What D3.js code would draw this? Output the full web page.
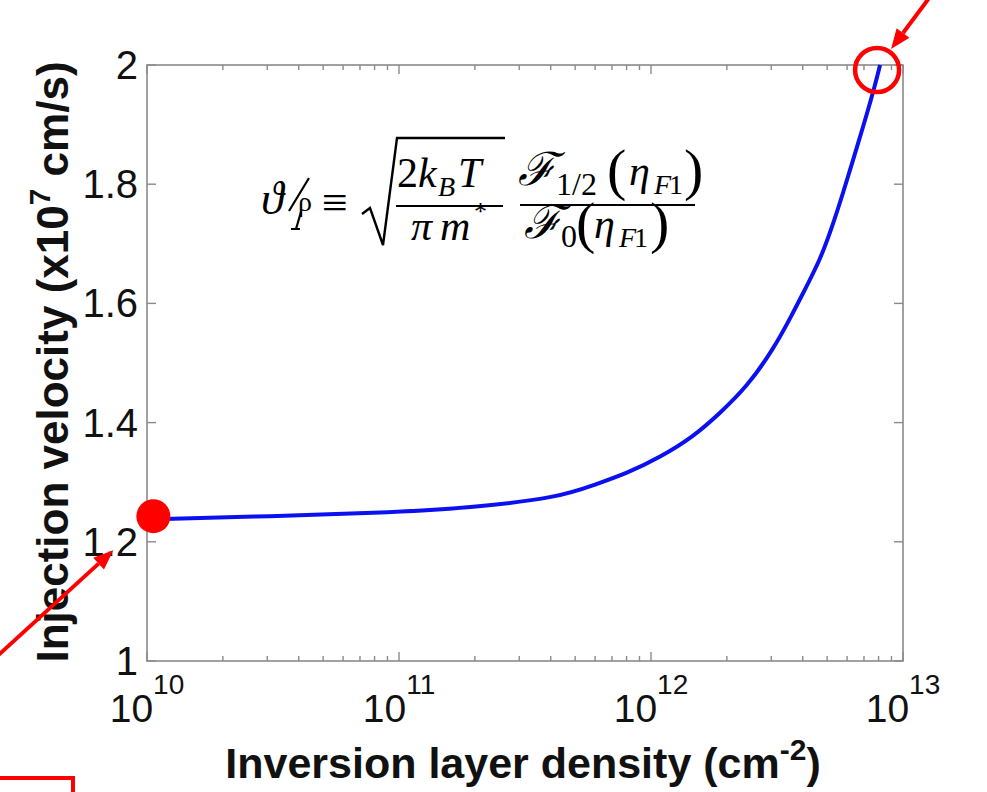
<!DOCTYPE html>
<html>
<head>
<meta charset="utf-8">
<script src="https://cdn.jsdelivr.net/npm/d3@7"></script>
<style>
  body { margin: 0; background: white; }
  svg { display: block; }
</style>
</head>
<body>
<svg width="987" height="792"></svg>
<script>
// inversion layer density (cm^-2) and injection velocity (x1e7 cm/s)
var density = [1.06e10, 3.16e10, 7.9e10, 1.96e11, 4.35e11, 5.89e11, 8.03e11, 1.087e12,
               1.469e12, 1.879e12, 2.40e12, 3.05e12, 3.66e12, 4.01e12, 4.69e12, 5.23e12,
               5.78e12, 6.34e12, 6.94e12, 7.60e12, 8.11e12];
var velocity = [1.238, 1.243, 1.248, 1.257, 1.275, 1.295, 1.315, 1.342,
                1.376, 1.416, 1.460, 1.522, 1.584, 1.617, 1.673, 1.728,
                1.785, 1.841, 1.896, 1.953, 2.0];
var yTicks = [1, 1.2, 1.4, 1.6, 1.8, 2];
var yTickLabels = ["1", "1.2", "1.4", "1.6", "1.8", "2"];
var xDecades = [10, 11, 12, 13];

var pL = 147, pR = 903, pT = 65, pB = 661;
var axisColor = "#8a8a8a";
var textColor = "#111";

var svg = d3.select("svg");

var x = d3.scaleLog().domain([1e10, 1e13]).range([pL, pR]);
var y = d3.scaleLinear().domain([1, 2]).range([pB, pT]);

// box
svg.append("rect")
    .attr("x", pL).attr("y", pT)
    .attr("width", pR - pL).attr("height", pB - pT)
    .attr("fill", "none")
    .attr("stroke", axisColor)
    .attr("stroke-width", 1.6);

// x ticks (major + minor), bottom and top, pointing inward
var minor = [];
for (var e = 10; e < 13; e++)
    for (var m = 2; m <= 9; m++) minor.push(m * Math.pow(10, e));
var major = xDecades.map(function(d) { return Math.pow(10, d); });

function xTickMarks(vals, len) {
    svg.selectAll(null).data(vals).enter().append("line")
        .attr("x1", function(d) { return x(d); }).attr("x2", function(d) { return x(d); })
        .attr("y1", pB).attr("y2", pB - len)
        .attr("stroke", axisColor).attr("stroke-width", 1.4);
    svg.selectAll(null).data(vals).enter().append("line")
        .attr("x1", function(d) { return x(d); }).attr("x2", function(d) { return x(d); })
        .attr("y1", pT).attr("y2", pT + len)
        .attr("stroke", axisColor).attr("stroke-width", 1.4);
}
xTickMarks(major, 9);
xTickMarks(minor, 5);

// y ticks, left and right
svg.selectAll(null).data(yTicks).enter().append("line")
    .attr("x1", pL).attr("x2", pL + 9)
    .attr("y1", function(d) { return y(d); }).attr("y2", function(d) { return y(d); })
    .attr("stroke", axisColor).attr("stroke-width", 1.4);
svg.selectAll(null).data(yTicks).enter().append("line")
    .attr("x1", pR).attr("x2", pR - 9)
    .attr("y1", function(d) { return y(d); }).attr("y2", function(d) { return y(d); })
    .attr("stroke", axisColor).attr("stroke-width", 1.4);

// y tick labels
svg.selectAll(null).data(yTicks).enter().append("text")
    .attr("x", pL - 9)
    .attr("y", function(d) { return y(d) + 14; })
    .attr("text-anchor", "end")
    .attr("font-family", "Liberation Sans, Arial, sans-serif")
    .attr("font-size", 40)
    .attr("fill", textColor)
    .text(function(d, i) { return yTickLabels[i]; });

// x tick labels 10^n
var xl = svg.selectAll(null).data(xDecades).enter().append("text")
    .attr("x", function(d) { return x(Math.pow(10, d)); })
    .attr("y", 722)
    .attr("text-anchor", "middle")
    .attr("font-family", "Liberation Sans, Arial, sans-serif")
    .attr("fill", textColor);
xl.append("tspan").attr("font-size", 39).text("10");
xl.append("tspan").attr("font-size", 28).attr("dy", -28).text(function(d) { return d; });

// axis titles
var xt = svg.append("text")
    .attr("x", 523).attr("y", 778)
    .attr("text-anchor", "middle")
    .attr("font-family", "Liberation Sans, Arial, sans-serif")
    .attr("font-weight", "bold")
    .attr("font-size", 43)
    .attr("fill", textColor);
xt.append("tspan").text("Inversion layer density (cm");
xt.append("tspan").attr("font-size", 30).attr("dy", -18).text("-2");
xt.append("tspan").attr("dy", 18).text(")");

var yt = svg.append("text")
    .attr("transform", "translate(68,362) rotate(-90)")
    .attr("text-anchor", "middle")
    .attr("font-family", "Liberation Sans, Arial, sans-serif")
    .attr("font-weight", "bold")
    .attr("font-size", 44)
    .attr("fill", textColor);
yt.append("tspan").text("Injection velocity (x10");
yt.append("tspan").attr("font-size", 30).attr("dy", -18).text("7");
yt.append("tspan").attr("dy", 18).text(" cm/s)");

// the curve
var pts = density.map(function(d, i) { return [d, velocity[i]]; });
var line = d3.line()
    .x(function(d) { return x(d[0]); })
    .y(function(d) { return y(d[1]); })
    .curve(d3.curveBasis);
svg.append("path")
    .datum(pts)
    .attr("d", line)
    .attr("fill", "none")
    .attr("stroke", "#0a10f0")
    .attr("stroke-width", 4);

// red markers
var first = pts[0], last = pts[pts.length - 1];
var dx0 = x(first[0]), dy0 = y(first[1]) - 3;
var dx1 = x(last[0]) - 3, dy1 = y(last[1]) + 5;
svg.append("circle").attr("cx", dx0).attr("cy", dy0).attr("r", 17).attr("fill", "#ff0000");
svg.append("circle").attr("cx", dx1).attr("cy", dy1).attr("r", 22)
    .attr("fill", "none").attr("stroke", "#ff0000").attr("stroke-width", 4.5);

function arrow(x0, y0, x1, y1) {
    var a = Math.atan2(y1 - y0, x1 - x0), L = 20, W = 8;
    var bx = x1 - L * Math.cos(a), by = y1 - L * Math.sin(a);
    svg.append("line").attr("x1", x0).attr("y1", y0).attr("x2", bx).attr("y2", by)
        .attr("stroke", "#ff0000").attr("stroke-width", 4);
    svg.append("path")
        .attr("d", "M" + x1 + "," + y1 +
            "L" + (bx + W * Math.sin(a)) + "," + (by - W * Math.cos(a)) +
            "L" + (bx - W * Math.sin(a)) + "," + (by + W * Math.cos(a)) + "Z")
        .attr("fill", "#ff0000");
}
arrow(dx0 - 200, dy0 + 180, dx0 - 40, dy0 + 34);
arrow(dx1 + 58, dy1 - 80, dx1 + 14, dy1 - 21);

// partial red box at bottom left
svg.append("path")
    .attr("d", "M-5,778 L73,778 L73,800")
    .attr("fill", "none").attr("stroke", "#ff0000").attr("stroke-width", 4);

// formula
var serif = "Liberation Serif, Times New Roman, serif";
function ft(tx, ty, size, str, italic) {
    return svg.append("text").attr("x", tx).attr("y", ty)
        .attr("font-family", serif).attr("font-size", size)
        .attr("font-style", italic ? "italic" : "normal")
        .attr("fill", "#000").text(str);
}
ft(261, 214, 46, "\u03D1", true);
svg.append("path")
    .attr("d", "M309,178 L289,211 M301,212 L296,229 M291,229 L300,229")
    .attr("fill", "none").attr("stroke", "#000").attr("stroke-width", 2.2);
ft(298, 211, 28, "\u03C1", false);
ft(322, 218, 46, "\u2261", false);
svg.append("path")
    .attr("d", "M362,214 L370,208 L383,245 L397,138 L505,138")
    .attr("fill", "none").attr("stroke", "#000").attr("stroke-width", 2.4);
ft(397, 187, 42, "2", false);
ft(418, 187, 42, "k", true);
ft(438, 196, 28, "B", true);
ft(458, 187, 42, "T", true);
svg.append("line").attr("x1", 396).attr("x2", 503).attr("y1", 206).attr("y2", 206)
    .attr("stroke", "#000").attr("stroke-width", 2);
ft(411, 240, 42, "\u03C0", true);
ft(440, 240, 42, "m", true);
ft(474, 220, 26, "*", false);

ft(518, 185, 46, "\u2131", true);
ft(556, 195, 32, "1/2", false);
ft(607, 189, 58, "(", false);
ft(629, 185, 42, "\u03B7", true);
ft(654, 194, 28, "F", true);
ft(669, 194, 28, "1", false);
ft(684, 189, 58, ")", false);
svg.append("line").attr("x1", 520).attr("x2", 695).attr("y1", 205).attr("y2", 205)
    .attr("stroke", "#000").attr("stroke-width", 2);
ft(524, 238, 46, "\u2131", true);
ft(561, 247, 32, "0", false);
ft(576, 242, 58, "(", false);
ft(594, 238, 42, "\u03B7", true);
ft(619, 247, 28, "F", true);
ft(634, 247, 28, "1", false);
ft(650, 242, 58, ")", false);
</script>
</body>
</html>
